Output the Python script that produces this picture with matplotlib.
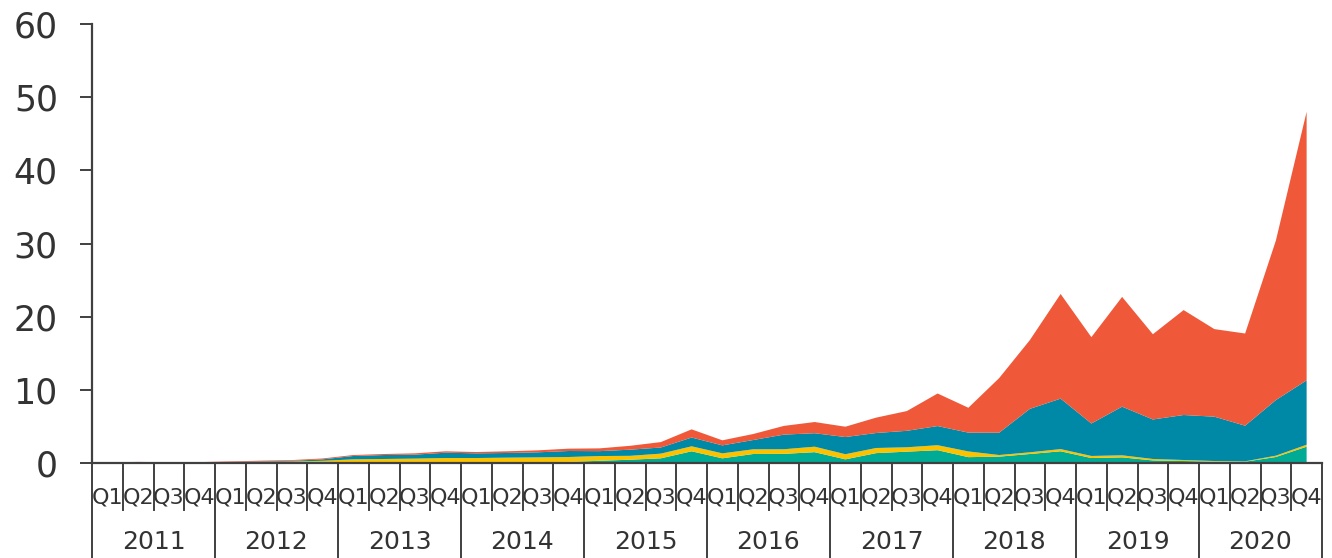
import numpy as np
import matplotlib.pyplot as plt

# Quarterly categories, 2011 Q1 .. 2020 Q4
years = ["2011", "2012", "2013", "2014", "2015", "2016", "2017", "2018", "2019", "2020"]
quarters = ["Q1", "Q2", "Q3", "Q4"]

# Stacked layers, bottom to top
layer_green = [0, 0, 0, 0, 0.02, 0.02, 0.02, 0.03,
               0.05, 0.05, 0.06, 0.08, 0.08, 0.1, 0.12, 0.15,
               0.3, 0.45, 0.64, 1.6, 0.64, 1.23, 1.25, 1.48,
               0.5, 1.35, 1.55, 1.75, 0.8, 0.87, 1.23, 1.6,
               0.68, 0.77, 0.35, 0.27, 0.18, 0.18, 0.82, 2.23]
layer_yellow = [0.03, 0.05, 0.04, 0.05, 0.08, 0.13, 0.18, 0.27,
                0.45, 0.5, 0.54, 0.6, 0.6, 0.63, 0.65, 0.67,
                0.65, 0.53, 0.64, 0.68, 0.68, 0.64, 0.63, 0.75,
                0.7, 0.7, 0.6, 0.68, 0.78, 0.22, 0.23, 0.3,
                0.28, 0.28, 0.2, 0.14, 0.09, 0.05, 0.18, 0.27]
layer_teal = [0.02, 0.03, 0.02, 0.03, 0.05, 0.07, 0.1, 0.2,
              0.46, 0.54, 0.54, 0.73, 0.64, 0.64, 0.69, 0.82,
              0.67, 0.84, 0.84, 1.2, 1.09, 1.27, 2.0, 1.84,
              2.35, 2.05, 2.25, 2.62, 2.57, 3.05, 5.94, 6.9,
              4.44, 6.65, 5.4, 6.15, 6.06, 4.87, 7.6, 8.8]
layer_red = [0.03, 0.07, 0.04, 0.04, 0.07, 0.1, 0.1, 0.12,
             0.13, 0.14, 0.18, 0.19, 0.18, 0.23, 0.27, 0.32,
             0.38, 0.53, 0.74, 1.12, 0.69, 0.82, 1.19, 1.53,
             1.41, 2.1, 2.7, 4.45, 3.4, 7.46, 9.4, 14.3,
             11.8, 15.0, 11.65, 14.34, 11.97, 12.6, 21.8, 36.7]

colors = ["#00ab96", "#fcc200", "#0089a7", "#f0583a"]
text_col = "#333333"
axis_col = "#404040"
narrow = ['Liberation Sans Narrow', 'DejaVu Sans']

plt.rcParams['font.family'] = ['DejaVu Sans']

fig = plt.figure(figsize=(13.32, 5.58), dpi=100)
ax = fig.add_axes([92 / 1332, 95 / 558, 1230 / 1332, 439 / 558])

x = np.arange(len(years) * len(quarters))
ax.stackplot(x, layer_green, layer_yellow, layer_teal, layer_red,
             colors=colors, linewidth=0)

ax.set_xlim(-0.5, len(x) - 0.5)
ax.set_ylim(0, 60)
ax.set_yticks(range(0, 61, 10))
ax.tick_params(axis='y', length=8.6, width=1.4, color=axis_col, pad=16)
for lab in ax.get_yticklabels():
    lab.set_family(narrow)
    lab.set_fontsize(25)
    lab.set_color(text_col)
ax.set_xticks([])

for side in ["top", "right"]:
    ax.spines[side].set_visible(False)
for side in ["left", "bottom"]:
    ax.spines[side].set_color(axis_col)
    ax.spines[side].set_linewidth(1.6)

# two-level category axis drawn below the plot
trans = ax.get_xaxis_transform()
q_len = -47 / 439
yr_len = -95 / 439
for b in np.arange(-0.5, len(x), 1.0):
    is_year = int(b + 0.5) % 4 == 0
    ax.plot([b, b], [0, yr_len if is_year else q_len], transform=trans,
            color=axis_col, lw=1.4, clip_on=False)

for i in x:
    ax.text(i, -35 / 439, quarters[i % 4], transform=trans, ha="center",
            va="center", fontsize=16, color=text_col, family=narrow)

for k, yr in enumerate(years):
    ax.text(4 * k + 1.5, -79 / 439, yr, transform=trans, ha="center",
            va="center", fontsize=18, color=text_col, family=narrow)

fig.savefig("out.png", dpi=100)
